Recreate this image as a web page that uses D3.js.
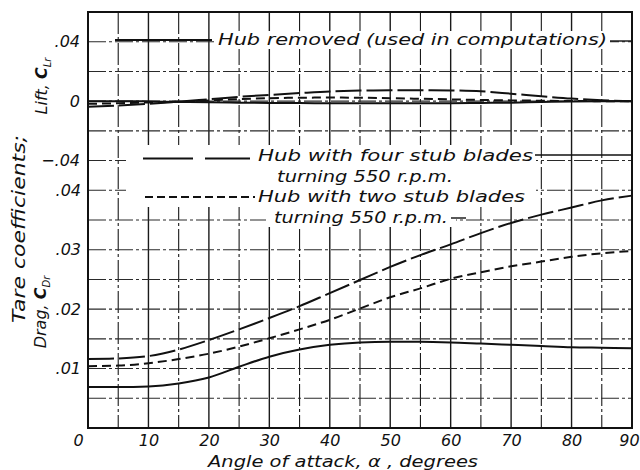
<!DOCTYPE html>
<html><head><meta charset="utf-8">
<script src="https://cdn.jsdelivr.net/npm/d3@7"></script>
<style>
body{margin:0;background:#fff}
text{font-family:"DejaVu Sans",sans-serif;font-style:italic;fill:#111}
</style>
</head><body><svg id="c" width="640" height="470"></svg>
<script>
// ---- data ----
const angles = [0,5,10,15,20,25,30,35,40,45,50,55,60,65,70,75,80,85,90];
const liftHubRemoved = [0,0,-0.0002,-0.0005,-0.0008,-0.001,-0.0012,-0.0013,-0.0014,-0.0015,-0.0015,-0.0015,-0.0014,-0.0012,-0.001,-0.0006,-0.0003,-0.0001,0];
const liftFourStub  = [-0.0038,-0.0029,-0.0018,-0.0003,0.0013,0.0029,0.0042,0.0054,0.0065,0.0071,0.0074,0.0074,0.0072,0.0066,0.005,0.0033,0.0017,0.0006,0];
const liftTwoStub   = [-0.0018,-0.0014,-0.0009,-0.0003,0.0004,0.0014,0.002,0.0023,0.0024,0.0023,0.002,0.0016,0.0012,0.0008,0.0005,0.0003,0.0001,0,0];
const dragHubRemoved = [0.0069,0.0069,0.0070,0.0075,0.0085,0.0103,0.0120,0.0132,0.0140,0.0144,0.0145,0.0145,0.0144,0.0142,0.0140,0.0138,0.0136,0.0135,0.0134];
const dragFourStub   = [0.0116,0.0117,0.0121,0.0132,0.0148,0.0166,0.0185,0.0205,0.0227,0.0249,0.0271,0.0291,0.0309,0.0328,0.0345,0.0359,0.0371,0.0383,0.0391];
const dragTwoStub    = [0.0104,0.0105,0.0109,0.0116,0.0125,0.0137,0.0151,0.0166,0.0182,0.0201,0.0220,0.0235,0.0251,0.0262,0.0272,0.0280,0.0288,0.0294,0.0298];
const xTicks = [0,10,20,30,40,50,60,70,80,90];
const liftTicks = [0.04,0,-0.04];
const dragTicks = [0.04,0.03,0.02,0.01];
const seriesNames = ["Hub removed (used in computations)","Hub with four stub blades","Hub with two stub blades"];
const rpmLabel = "turning 550 r.p.m.";

// ---- scales ----
const svg = d3.select("#c");
const L = 88, R = 632, T = 12, B = 428;
const x = d3.scaleLinear().domain([0,90]).range([L,R]);
const yD = d3.scaleLinear().domain([0,0.07]).range([B,T]);
const yL = d3.scaleLinear().domain([-0.06,0.06]).range([yD(0.04), yD(0.07)]);

// ---- grid ----
const grid = svg.append("g");
grid.selectAll("line.v").data(x.ticks(18)).join("line")
  .attr("x1",d=>x(d)).attr("x2",d=>x(d)).attr("y1",T).attr("y2",B)
  .attr("stroke","#1a1a1a").attr("stroke-width",d=>d%10===0?1.4:1.1)
  .attr("stroke-dasharray",d=>d%10===0?null:"22,3,3,3");
grid.selectAll("line.h").data(yD.ticks(14)).join("line")
  .attr("x1",L).attr("x2",R).attr("y1",d=>yD(d)).attr("y2",d=>yD(d))
  .attr("stroke","#2a2a2a").attr("stroke-width",1.1)
  .attr("stroke-dasharray","18,3,3,3");

// white areas behind legend texts
const wb = svg.append("g").attr("fill","#fff");
wb.append("rect").attr("x",214).attr("y",31).attr("width",396).attr("height",18);
wb.append("rect").attr("x",126).attr("y",145).attr("width",410).attr("height",62);
wb.append("rect").attr("x",266).attr("y",206).attr("width",190).attr("height",21);

// frame
svg.append("rect").attr("x",L).attr("y",T).attr("width",R-L).attr("height",B-T)
  .attr("fill","none").attr("stroke","#111").attr("stroke-width",2);

// ---- curves ----
const lineL = d3.line().x((d,i)=>x(angles[i])).y(d=>yL(d)).curve(d3.curveMonotoneX);
const lineD = d3.line().x((d,i)=>x(angles[i])).y(d=>yD(d)).curve(d3.curveMonotoneX);
const styles = [null,"26,5","9,5"];
const curves = svg.append("g").attr("fill","none").attr("stroke","#111").attr("stroke-width",2);
[liftHubRemoved,liftFourStub,liftTwoStub].forEach((s,i)=>
  curves.append("path").attr("d",lineL(s)).attr("stroke-dasharray",styles[i]));
[dragHubRemoved,dragFourStub,dragTwoStub].forEach((s,i)=>
  curves.append("path").attr("d",lineD(s)).attr("stroke-dasharray",styles[i]));

// ---- legend annotations ----
const lg = svg.append("g").attr("stroke","#111").attr("stroke-width",2).attr("fill","none");
lg.append("line").attr("x1",115).attr("x2",212).attr("y1",40).attr("y2",40);
lg.append("line").attr("x1",610).attr("x2",R).attr("y1",41).attr("y2",41).attr("stroke-width",1.4);
lg.append("line").attr("x1",143).attr("x2",250).attr("y1",158.5).attr("y2",158.5).attr("stroke-dasharray","50,12");
lg.append("line").attr("x1",535).attr("x2",R).attr("y1",155).attr("y2",155).attr("stroke-width",1.4);
lg.append("line").attr("x1",145).attr("x2",255).attr("y1",197).attr("y2",197).attr("stroke-dasharray","8,4");
lg.append("line").attr("x1",451).attr("x2",466).attr("y1",218).attr("y2",218).attr("stroke-width",1.4);

const tx = svg.append("g").attr("font-size",16);
tx.append("text").attr("x",218).attr("y",45).attr("textLength",389).attr("lengthAdjust","spacingAndGlyphs").text(seriesNames[0]);
tx.append("text").attr("x",258).attr("y",161).attr("textLength",275).attr("lengthAdjust","spacingAndGlyphs").text(seriesNames[1]);
tx.append("text").attr("x",277).attr("y",182).attr("textLength",176).attr("lengthAdjust","spacingAndGlyphs").text(rpmLabel);
tx.append("text").attr("x",258).attr("y",202).attr("textLength",267).attr("lengthAdjust","spacingAndGlyphs").text(seriesNames[2]);
tx.append("text").attr("x",274).attr("y",223).attr("textLength",174).attr("lengthAdjust","spacingAndGlyphs").text(rpmLabel);

// ---- axes ----
const fmt = d => d===0 ? "0" : d3.format(".2f")(d).replace("0.",".");
const ax = svg.append("g").attr("transform",`translate(0,${B})`)
  .call(d3.axisBottom(x).tickValues(xTicks).tickSize(0).tickPadding(6).tickFormat(d3.format("d")));
const ayL = svg.append("g").attr("transform",`translate(${L},0)`)
  .call(d3.axisLeft(yL).tickValues(liftTicks).tickSize(0).tickPadding(8).tickFormat(fmt));
const ayD = svg.append("g").attr("transform",`translate(${L},0)`)
  .call(d3.axisLeft(yD).tickValues(dragTicks).tickSize(0).tickPadding(7).tickFormat(fmt));
[ax,ayL,ayD].forEach(g=>{
  g.select(".domain").remove();
  g.selectAll("text").attr("font-size",16).attr("font-family",'"DejaVu Sans",sans-serif')
   .attr("font-style","italic").attr("fill","#111");
});
ax.selectAll("text").attr("dy","0.78em").filter(d=>d===0).attr("dx",-10);
ax.selectAll("text").filter(d=>d===90).attr("dx",-3);

// axis titles
svg.append("text").attr("x",343).attr("y",467).attr("text-anchor","middle").attr("font-size",15.5)
  .attr("textLength",270).attr("lengthAdjust","spacingAndGlyphs").text("Angle of attack, α , degrees");
svg.append("text").attr("transform","translate(25,229) rotate(-90)").attr("text-anchor","middle")
  .attr("font-size",17).attr("textLength",188).attr("lengthAdjust","spacingAndGlyphs").text("Tare coefficients;");
const tL = svg.append("text").attr("transform","translate(47,86) rotate(-90)").attr("text-anchor","middle").attr("font-size",16);
tL.append("tspan").text("Lift, ");
tL.append("tspan").attr("font-weight","bold").text("C");
tL.append("tspan").attr("font-size",10).attr("dy",4).text("Lr");
const tD = svg.append("text").attr("transform","translate(46,312) rotate(-90)").attr("text-anchor","middle").attr("font-size",16);
tD.append("tspan").text("Drag, ");
tD.append("tspan").attr("font-weight","bold").text("C");
tD.append("tspan").attr("font-size",10).attr("dy",4).text("Dr");
</script></body></html>
